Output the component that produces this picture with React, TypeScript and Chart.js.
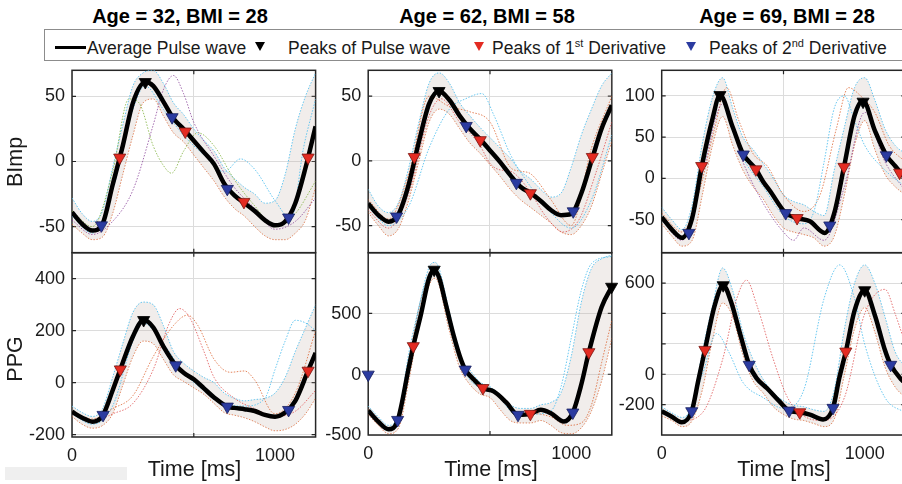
import React, { useEffect, useRef } from "react";
import { Chart, registerables } from "chart.js";

Chart.register(...registerables);
Chart.defaults.font.family = "'Liberation Sans', Arial, sans-serif";

type Pt = [number, number];

// ---------- texts & ticks ----------
const COLUMN_TITLES = ["Age = 32, BMI = 28", "Age = 62, BMI = 58", "Age = 69, BMI = 28"];
const ROW_LABELS = ["BImp", "PPG"];
const X_LABEL = "Time [ms]";
const X_MIN = 0;
const X_MAX = 1200;
const X_STEP = 500;
const X_TICK_LABELS = [0, 1000];

// ---------- BImp, column 1 ----------
const AVG_BIMP_1: Pt[] = [[0,-39],[50,-48],[100,-53],[150,-48],[200,-18],[250,12],[300,45],[361,61],[400,58],[450,46],[500,33],[550,25],[600,16],[650,7],[700,-2],[750,-17],[800,-26],[850,-32],[900,-38],[950,-45],[1000,-49],[1050,-46],[1100,-32],[1150,-5],[1200,27]];
const HI_BIMP_1: Pt[] = [[0,-28],[50,-40],[100,-46],[150,-38],[200,-5],[250,28],[300,58],[350,68],[400,70],[450,60],[500,45],[550,36],[600,25],[650,16],[700,8],[750,-5],[800,-13],[850,-20],[900,-25],[950,-32],[1000,-30],[1050,-10],[1100,25],[1150,50],[1200,68]];
const LO_BIMP_1: Pt[] = [[0,-48],[50,-55],[100,-60],[150,-58],[200,-40],[250,-10],[300,20],[350,45],[400,48],[450,35],[500,22],[550,15],[600,5],[650,-5],[700,-15],[750,-27],[800,-36],[850,-42],[900,-50],[950,-57],[1000,-60],[1050,-60],[1100,-55],[1150,-45],[1200,-20]];
const OUT_BIMP_1: Pt[][] = [
  [[0,-45],[100,-56],[200,-46],[300,-22],[400,28],[450,55],[500,66],[550,52],[600,30],[700,4],[800,-20],[900,-36],[1000,-52],[1100,-46],[1200,-28]],
  [[0,-38],[100,-50],[200,-8],[280,48],[330,45],[400,12],[450,-3],[490,-9],[550,8],[620,22],[700,12],[800,-14],[900,-34],[1000,-50],[1100,-40],[1200,-15]],
  [[0,-42],[100,-55],[200,-22],[300,40],[360,58],[450,40],[550,20],[650,5],[750,-8],[830,2],[900,-6],[1000,-30],[1080,-44],[1140,10],[1200,48]],
];
const BLACK_BIMP_1: Pt[] = [[361,61]];
const RED_BIMP_1: Pt[] = [[235,3],[558,23],[847,-31],[1163,3]];
const BLUE_BIMP_1: Pt[] = [[145,-49],[493,34],[765,-21],[1067,-43]];
const YTICKS_BIMP_1 = [-50, 0, 50];

// ---------- BImp, column 2 ----------
const AVG_BIMP_2: Pt[] = [[0,-33],[50,-42],[100,-47],[150,-41],[200,-18],[250,15],[300,44],[349,54],[400,47],[450,35],[500,25],[550,17],[600,8],[650,-1],[700,-11],[750,-20],[800,-25],[850,-31],[900,-38],[950,-42],[1000,-41],[1050,-25],[1100,0],[1150,25],[1200,43]];
const HI_BIMP_2: Pt[] = [[0,-22],[50,-35],[100,-40],[150,-32],[200,-5],[250,30],[300,60],[350,68],[400,60],[450,45],[500,35],[550,26],[600,18],[650,10],[700,2],[750,-8],[800,-14],[850,-22],[900,-28],[950,-25],[1000,-5],[1050,20],[1100,40],[1150,58],[1200,68]];
const LO_BIMP_2: Pt[] = [[0,-40],[50,-50],[100,-58],[150,-52],[200,-30],[250,0],[300,30],[350,40],[400,36],[450,25],[500,14],[550,6],[600,-3],[650,-12],[700,-22],[750,-30],[800,-36],[850,-42],[900,-48],[950,-55],[1000,-57],[1050,-50],[1100,-35],[1150,-10],[1200,15]];
const OUT_BIMP_2: Pt[][] = [
  [[0,-35],[100,-50],[200,-35],[300,10],[400,40],[480,48],[560,52],[620,35],[700,5],[800,-20],[900,-40],[1000,-52],[1100,-30],[1200,20]],
  [[0,-30],[100,-45],[200,-10],[300,50],[400,42],[500,38],[600,30],[700,-5],[750,-8],[800,-10],[900,-30],[1000,-50],[1100,10],[1200,50]],
  [[0,-38],[100,-52],[200,-25],[300,35],[360,48],[450,30],[550,12],[600,-2],[650,-7],[700,-8],[780,-20],[880,-44],[960,-55],[1040,-45],[1120,-10],[1200,30]],
];
const BLACK_BIMP_2: Pt[] = [[349,54]];
const RED_BIMP_2: Pt[] = [[227,3],[552,16],[799,-25],[1104,3]];
const BLUE_BIMP_2: Pt[] = [[140,-43],[483,27],[730,-17],[1010,-39]];
const YTICKS_BIMP_2 = [-50, 0, 50];

// ---------- BImp, column 3 ----------
const AVG_BIMP_3: Pt[] = [[0,-47],[50,-62],[100,-72],[150,-48],[200,18],[250,72],[287,101],[350,62],[400,30],[464,11],[500,-4],[533,-15],[611,-42],[667,-48],[730,-52],[803,-66],[850,-42],[898,14],[950,76],[992,94],[1050,58],[1107,28],[1150,15],[1200,0]];
const HI_BIMP_3: Pt[] = [[0,-35],[50,-50],[100,-62],[150,-32],[200,42],[250,98],[300,122],[350,85],[400,50],[450,35],[500,18],[550,0],[600,-20],[650,-28],[700,-32],[750,-40],[800,-45],[850,10],[900,62],[950,110],[1000,122],[1050,95],[1100,60],[1150,40],[1200,30]];
const LO_BIMP_3: Pt[] = [[0,-55],[50,-70],[100,-82],[150,-75],[200,-20],[250,40],[300,75],[350,40],[400,10],[450,-10],[500,-25],[550,-45],[600,-60],[650,-65],[700,-68],[750,-72],[800,-82],[850,-70],[900,-20],[950,40],[1000,70],[1050,35],[1100,5],[1150,-10],[1200,-20]];
const OUT_BIMP_3: Pt[][] = [
  [[0,-45],[100,-70],[200,10],[290,95],[400,25],[500,-10],[600,-45],[700,-55],[750,-40],[800,20],[850,85],[900,100],[950,70],[1000,40],[1100,10],[1200,-10]],
  [[0,-50],[100,-75],[200,5],[300,90],[400,20],[500,-30],[600,-65],[650,-75],[700,-60],[800,-75],[900,-10],[1000,80],[1100,20],[1200,-15]],
  [[0,-42],[100,-65],[180,-20],[260,60],[320,110],[380,70],[450,30],[520,15],[600,-20],[700,-40],[780,-20],[860,60],[920,110],[980,100],[1050,80],[1120,40],[1200,20]],
];
const BLACK_BIMP_3: Pt[] = [[287,101],[992,93]];
const RED_BIMP_3: Pt[] = [[197,15],[464,11],[667,-48],[898,14],[1172,7]];
const BLUE_BIMP_3: Pt[] = [[134,-66],[402,29],[611,-42],[828,-57],[1107,28]];
const YTICKS_BIMP_3 = [-50, 0, 50, 100];

// ---------- PPG, column 1 ----------
const AVG_PPG_1: Pt[] = [[0,-112],[50,-135],[100,-150],[150,-128],[200,-30],[238,51],[300,178],[353,241],[400,213],[450,140],[511,67],[550,38],[600,13],[650,-22],[700,-57],[765,-92],[800,-97],[850,-102],[900,-109],[950,-124],[1000,-131],[1050,-115],[1100,-70],[1163,46],[1200,115]];
const HI_PPG_1: Pt[] = [[0,-90],[50,-115],[100,-130],[150,-100],[200,20],[250,150],[300,270],[350,310],[400,300],[450,220],[500,120],[550,75],[600,45],[650,20],[700,0],[750,-40],[800,-60],[850,-70],[900,-65],[950,-60],[1000,-40],[1050,20],[1100,120],[1150,210],[1200,300]];
const LO_PPG_1: Pt[] = [[0,-130],[50,-160],[100,-175],[150,-165],[200,-120],[250,-10],[300,100],[350,160],[400,150],[450,90],[500,30],[550,5],[600,-20],[650,-45],[700,-80],[750,-115],[800,-125],[850,-135],[900,-150],[950,-170],[1000,-185],[1050,-180],[1100,-160],[1150,-120],[1200,-60]];
const OUT_PPG_1: Pt[][] = [
  [[0,-120],[100,-150],[200,-120],[300,-80],[400,50],[480,230],[530,285],[580,250],[650,120],[700,20],[800,-60],[900,-100],[1000,-130],[1100,-110],[1200,-30]],
  [[0,-110],[100,-140],[200,-100],[300,-50],[400,100],[500,220],[570,260],[620,220],[700,90],[780,40],[850,45],[900,10],[1000,-120],[1100,-40],[1200,200]],
  [[0,-120],[100,-160],[200,-90],[300,160],[350,230],[450,150],[550,40],[650,-30],[750,-80],[850,-90],[950,-60],[1000,50],[1050,160],[1100,240],[1150,230],[1200,200]],
];
const BLACK_PPG_1: Pt[] = [[353,241]];
const RED_PPG_1: Pt[] = [[238,51],[1163,46]];
const BLUE_PPG_1: Pt[] = [[153,-124],[511,67],[765,-92],[1067,-105]];
const YTICKS_PPG_1 = [-200, 0, 200, 400];

// ---------- PPG, column 2 ----------
const AVG_PPG_2: Pt[] = [[0,-297],[50,-390],[100,-453],[145,-380],[200,60],[222,236],[260,500],[300,800],[325,869],[350,800],[380,600],[420,330],[460,110],[478,42],[520,-40],[565,-111],[618,-139],[680,-230],[738,-333],[799,-325],[850,-290],[900,-320],[964,-389],[1008,-314],[1050,-80],[1087,186],[1150,560],[1200,728]];
const HI_PPG_2: Pt[] = [[0,-260],[50,-350],[100,-420],[150,-330],[200,180],[250,560],[300,890],[330,930],[400,520],[450,160],[500,40],[550,-60],[600,-100],[650,-170],[700,-250],[750,-280],[800,-280],[850,-250],[900,-230],[950,-150],[1000,150],[1050,600],[1100,880],[1150,960],[1200,990]];
const LO_PPG_2: Pt[] = [[0,-330],[50,-420],[100,-490],[150,-440],[200,-50],[250,400],[300,740],[330,800],[400,360],[450,60],[500,-80],[550,-160],[600,-190],[650,-290],[700,-380],[750,-400],[800,-400],[850,-380],[900,-420],[950,-480],[1000,-490],[1050,-440],[1100,-300],[1150,-50],[1200,300]];
const OUT_PPG_2: Pt[][] = [
  [[0,-310],[100,-460],[150,-390],[200,40],[250,560],[330,880],[400,470],[480,20],[560,-120],[620,-150],[740,-340],[800,-330],[900,-300],[950,-100],[1000,300],[1050,700],[1100,920],[1200,980]],
  [[0,-290],[100,-440],[150,-370],[200,100],[260,620],[330,860],[400,420],[480,60],[560,-100],[620,-130],[740,-320],[800,-320],[900,-350],[980,-420],[1050,-400],[1100,-250],[1150,100],[1200,450]],
];
const BLACK_PPG_2: Pt[] = [[325,869],[1199,728]];
const RED_PPG_2: Pt[] = [[222,236],[565,-111],[799,-325],[1087,186]];
const BLUE_PPG_2: Pt[] = [[0,0],[145,-375],[478,42],[738,-333],[1008,-314]];
const YTICKS_PPG_2 = [-500, 0, 500];

// ---------- PPG, column 3 ----------
const AVG_PPG_3: Pt[] = [[0,-239],[50,-275],[98,-311],[148,-239],[180,-40],[213,163],[260,450],[303,587],[340,485],[390,250],[431,65],[467,-22],[520,-90],[580,-175],[628,-235],[680,-246],[730,-261],[795,-293],[844,-217],[875,-20],[907,152],[950,420],[1000,554],[1050,390],[1100,160],[1128,65],[1182,-33],[1200,-55]];
const HI_PPG_3: Pt[] = [[0,-210],[50,-250],[100,-280],[150,-200],[200,150],[250,450],[300,700],[350,550],[400,280],[450,100],[500,-30],[550,-120],[600,-170],[650,-200],[700,-210],[750,-230],[800,-240],[850,-100],[900,300],[950,600],[1000,720],[1050,600],[1100,380],[1150,150],[1200,50]];
const LO_PPG_3: Pt[] = [[0,-270],[50,-300],[100,-340],[150,-300],[200,-100],[250,230],[300,470],[350,380],[400,130],[450,-40],[500,-120],[550,-210],[600,-260],[650,-290],[700,-300],[750,-320],[800,-340],[850,-290],[900,0],[950,300],[1000,440],[1050,280],[1100,50],[1150,-80],[1200,-150]];
const OUT_PPG_3: Pt[][] = [
  [[0,-250],[100,-300],[200,-250],[300,100],[370,500],[418,620],[470,450],[550,100],[620,-150],[700,-270],[800,-300],[900,-150],[1000,400],[1100,560],[1150,400],[1200,200]],
  [[0,-230],[100,-300],[200,0],[270,270],[330,150],[400,-50],[500,-150],[600,-220],[700,-100],[800,500],[877,720],[950,500],[1000,200],[1100,-150],[1200,-250]],
];
const BLACK_PPG_3: Pt[] = [[303,587],[1000,554]];
const RED_PPG_3: Pt[] = [[213,163],[680,-246],[907,152]];
const BLUE_PPG_3: Pt[] = [[148,-239],[431,65],[628,-235],[844,-217],[1128,65]];
const YTICKS_PPG_3 = [-200, 0, 600];

// ---------- styles ----------
const RED = "#e32b22";
const BLUE = "#2b3ba0";
const C_PURPLE = "rgba(126,47,142,0.7)";
const C_GREEN = "rgba(119,172,48,0.75)";
const C_CYAN = "rgba(77,190,238,0.85)";
const C_ORANGE = "rgba(217,83,25,0.7)";
const C_RED = "rgba(220,60,60,0.7)";
const BAND_FILL = "rgba(190,172,165,0.22)";
const FRAME = "#262626";
const GRID = "#dcdcdc";
const TEXT = "#1a1a1a";
const FONT = "'Liberation Sans', Arial, sans-serif";

const toXY = (a: Pt[]) => a.map(([x, y]) => ({ x, y }));

type Spec = {
  L: number; T: number; R: number; B: number;
  yMin: number; yMax: number; yStep: number; yTicks: number[];
  showX: boolean;
  avg: Pt[]; hi: Pt[]; lo: Pt[]; out: Pt[][]; outColors: string[];
  black: Pt[]; red: Pt[]; blue: Pt[];
};

const COL_L = [72, 368.2, 661.7];
const COL_W = 243.6;
const TOP_T = 70.3;
const MID = 252.7;

const SPECS: Spec[] = [
  { L: COL_L[0], T: TOP_T, R: COL_L[0] + COL_W, B: MID, yMin: -70, yMax: 70, yStep: 50, yTicks: YTICKS_BIMP_1, showX: false,
    avg: AVG_BIMP_1, hi: HI_BIMP_1, lo: LO_BIMP_1, out: OUT_BIMP_1, outColors: [C_PURPLE, C_GREEN, C_CYAN],
    black: BLACK_BIMP_1, red: RED_BIMP_1, blue: BLUE_BIMP_1 },
  { L: COL_L[1], T: TOP_T, R: COL_L[1] + COL_W, B: MID, yMin: -71, yMax: 70, yStep: 50, yTicks: YTICKS_BIMP_2, showX: false,
    avg: AVG_BIMP_2, hi: HI_BIMP_2, lo: LO_BIMP_2, out: OUT_BIMP_2, outColors: [C_CYAN, C_ORANGE, C_RED],
    black: BLACK_BIMP_2, red: RED_BIMP_2, blue: BLUE_BIMP_2 },
  { L: COL_L[2], T: TOP_T, R: COL_L[2] + COL_W, B: MID, yMin: -90, yMax: 131, yStep: 50, yTicks: YTICKS_BIMP_3, showX: false,
    avg: AVG_BIMP_3, hi: HI_BIMP_3, lo: LO_BIMP_3, out: OUT_BIMP_3, outColors: [C_CYAN, C_PURPLE, C_ORANGE],
    black: BLACK_BIMP_3, red: RED_BIMP_3, blue: BLUE_BIMP_3 },
  { L: COL_L[0], T: MID, R: COL_L[0] + COL_W, B: 437, yMin: -209, yMax: 500, yStep: 200, yTicks: YTICKS_PPG_1, showX: true,
    avg: AVG_PPG_1, hi: HI_PPG_1, lo: LO_PPG_1, out: OUT_PPG_1, outColors: [C_RED, C_ORANGE, C_CYAN],
    black: BLACK_PPG_1, red: RED_PPG_1, blue: BLUE_PPG_1 },
  { L: COL_L[1], T: MID, R: COL_L[1] + COL_W, B: 435, yMin: -500, yMax: 1010, yStep: 500, yTicks: YTICKS_PPG_2, showX: true,
    avg: AVG_PPG_2, hi: HI_PPG_2, lo: LO_PPG_2, out: OUT_PPG_2, outColors: [C_CYAN, C_ORANGE],
    black: BLACK_PPG_2, red: RED_PPG_2, blue: BLUE_PPG_2 },
  { L: COL_L[2], T: MID, R: COL_L[2] + COL_W, B: 435, yMin: -395, yMax: 800, yStep: 200, yTicks: YTICKS_PPG_3, showX: true,
    avg: AVG_PPG_3, hi: HI_PPG_3, lo: LO_PPG_3, out: OUT_PPG_3, outColors: [C_RED, C_CYAN],
    black: BLACK_PPG_3, red: RED_PPG_3, blue: BLUE_PPG_3 },
];

function makeFramePlugin(s: Spec) {
  return {
    id: "frame",
    beforeDatasetsDraw(chart: any) {
      const { ctx, chartArea: a, scales } = chart;
      ctx.save();
      ctx.strokeStyle = FRAME;
      ctx.lineWidth = 1.5;
      ctx.strokeRect(a.left, a.top, a.right - a.left, a.bottom - a.top);
      ctx.lineWidth = 1.2;
      const tl = 4;
      ctx.beginPath();
      scales.x.ticks.forEach((t: any) => {
        const px = scales.x.getPixelForValue(t.value);
        if (px > a.left + 1 && px < a.right - 1) {
          ctx.moveTo(px, a.top); ctx.lineTo(px, a.top + tl);
          ctx.moveTo(px, a.bottom); ctx.lineTo(px, a.bottom - tl);
        }
      });
      scales.y.ticks.forEach((t: any) => {
        const py = scales.y.getPixelForValue(t.value);
        if (py > a.top + 1 && py < a.bottom - 1) {
          ctx.moveTo(a.left, py); ctx.lineTo(a.left + tl, py);
          ctx.moveTo(a.right, py); ctx.lineTo(a.right - tl, py);
        }
      });
      ctx.stroke();
      // tick labels
      ctx.fillStyle = TEXT;
      ctx.font = `18px ${FONT}`;
      ctx.textBaseline = "middle";
      ctx.textAlign = "right";
      s.yTicks.forEach((v) => {
        ctx.fillText(String(v), a.left - 7, scales.y.getPixelForValue(v));
      });
      if (s.showX) {
        ctx.textAlign = "center";
        X_TICK_LABELS.forEach((v) => {
          ctx.fillText(String(v), scales.x.getPixelForValue(v), a.bottom + 19.5);
        });
      }
      ctx.restore();
    },
  };
}

function geometry(s: Spec) {
  const cl = Math.max(0, Math.round(s.L - 70));
  const yW = s.L - cl;
  const ct = Math.round(s.T) - 14;
  const padTop = s.T - ct;
  const xH = s.showX ? 40 : 0;
  const cw = Math.ceil(yW + (s.R - s.L) + 12);
  const padRight = cw - yW - (s.R - s.L);
  const ch = Math.ceil(padTop + (s.B - s.T) + xH + 10);
  const padBottom = ch - padTop - (s.B - s.T) - xH;
  return { cl, ct, cw, ch, yW, xH, padTop, padRight, padBottom };
}

function markerDs(pts: Pt[], fill: string, stroke: string) {
  return {
    data: toXY(pts), showLine: false, pointStyle: "triangle", rotation: 180,
    pointRadius: 7, pointHoverRadius: 7, pointBackgroundColor: fill, pointBorderColor: stroke,
    pointBorderWidth: 0.8, order: 0, clip: false, fill: false,
  };
}

function buildConfig(s: Spec, g: any): any {
  const datasets: any[] = [
    markerDs(s.black, "#000000", "#000000"),
    markerDs(s.red, RED, "#7a1510"),
    markerDs(s.blue, BLUE, "#18205e"),
    { data: toXY(s.avg), borderColor: "#000000", borderWidth: 4.5, pointRadius: 0, cubicInterpolationMode: "monotone", order: 1, clip: 0, fill: false },
    { data: toXY(s.hi), borderColor: C_CYAN, borderWidth: 1, borderDash: [1.5, 1.5], pointRadius: 0, cubicInterpolationMode: "monotone", order: 3, clip: 0, fill: "+1", backgroundColor: BAND_FILL },
    { data: toXY(s.lo), borderColor: C_ORANGE, borderWidth: 1, borderDash: [1.5, 1.5], pointRadius: 0, cubicInterpolationMode: "monotone", order: 3, clip: 0, fill: false },
  ];
  s.out.forEach((o, i) => {
    datasets.push({ data: toXY(o), borderColor: s.outColors[i % s.outColors.length], borderWidth: 1, borderDash: [1.5, 1.5], pointRadius: 0, cubicInterpolationMode: "monotone", order: 2, clip: 0, fill: false });
  });
  return {
    type: "line",
    data: { datasets },
    plugins: [makeFramePlugin(s)],
    options: {
      responsive: false,
      animation: false,
      devicePixelRatio: 1,
      events: [],
      layout: { padding: { left: 0, top: g.padTop, right: g.padRight, bottom: g.padBottom } },
      plugins: { legend: { display: false }, tooltip: { enabled: false }, title: { display: false } },
      scales: {
        x: {
          type: "linear", min: X_MIN, max: X_MAX,
          afterFit: (sc: any) => { sc.height = g.xH; },
          border: { display: false },
          grid: { color: GRID, lineWidth: 1, drawTicks: false },
          ticks: { display: false, stepSize: X_STEP, includeBounds: false },
        },
        y: {
          type: "linear", min: s.yMin, max: s.yMax,
          afterFit: (sc: any) => { sc.width = g.yW; },
          border: { display: false },
          grid: { color: GRID, lineWidth: 1, drawTicks: false },
          ticks: { display: false, stepSize: s.yStep, includeBounds: false },
        },
      },
    },
  };
}

function Panel({ spec }: { spec: Spec }) {
  const ref = useRef<HTMLCanvasElement>(null);
  const g = geometry(spec);
  useEffect(() => {
    const chart = new Chart(ref.current as HTMLCanvasElement, buildConfig(spec, g));
    return () => chart.destroy();
  }, []);
  return (
    <canvas
      ref={ref}
      width={g.cw}
      height={g.ch}
      style={{ position: "absolute", left: g.cl, top: g.ct, width: g.cw, height: g.ch }}
    />
  );
}

const TITLE_CX = [180, 487, 787];
const XLABEL_CX = [194.5, 491, 784];
const ROWLABEL_CY = [161.5, 358.5];

function Tri({ left, color }: { left: number; color: string }) {
  return (
    <div style={{ position: "absolute", left, top: 42, width: 0, height: 0, borderLeft: "5px solid transparent", borderRight: "5px solid transparent", borderTop: `9px solid ${color}` }} />
  );
}

export default function App() {
  const legendText: React.CSSProperties = { position: "absolute", top: 39.5, fontSize: 17.5, lineHeight: "17.5px", whiteSpace: "nowrap", color: TEXT, fontFamily: FONT };
  const sup: React.CSSProperties = { fontSize: 11, position: "relative", top: -7, lineHeight: 0 };
  return (
    <div style={{ position: "fixed", left: 0, top: 0, width: 902, height: 484, overflow: "hidden", background: "#ffffff", fontFamily: FONT }}>
      {SPECS.map((s, i) => <Panel key={i} spec={s} />)}
      {COLUMN_TITLES.map((t, i) => (
        <div key={t} style={{ position: "absolute", left: TITLE_CX[i], top: 5.5, transform: "translateX(-50%)", fontSize: 20, lineHeight: "20px", fontWeight: "bold", whiteSpace: "nowrap", color: "#000" }}>{t}</div>
      ))}
      {XLABEL_CX.map((cx, i) => (
        <div key={i} style={{ position: "absolute", left: cx, top: 459, transform: "translateX(-50%)", fontSize: 21.5, lineHeight: "21.5px", whiteSpace: "nowrap", color: TEXT }}>{X_LABEL}</div>
      ))}
      {ROW_LABELS.map((t, i) => (
        <div key={t} style={{ position: "absolute", left: 15.5, top: ROWLABEL_CY[i], transform: "translate(-50%,-50%) rotate(-90deg)", fontSize: 21.5, lineHeight: "21.5px", whiteSpace: "nowrap", color: TEXT }}>{t}</div>
      ))}
      <div style={{ position: "absolute", left: 44, top: 29, width: 870, height: 32, boxSizing: "border-box", border: "1px solid #8c8c8c", background: "#fff" }} />
      <div style={{ position: "absolute", left: 55, top: 45.5, width: 31, height: 3, background: "#000" }} />
      <div style={{ ...legendText, left: 87 }}>Average Pulse wave</div>
      <Tri left={255} color="#000" />
      <div style={{ ...legendText, left: 288 }}>Peaks of Pulse wave</div>
      <Tri left={474} color={RED} />
      <div style={{ ...legendText, left: 492 }}>Peaks of 1<span style={sup}>st</span> Derivative</div>
      <Tri left={686} color={BLUE} />
      <div style={{ ...legendText, left: 709 }}>Peaks of 2<span style={sup}>nd</span> Derivative</div>
      <div style={{ position: "absolute", left: 5, top: 467, width: 122, height: 13, background: "#efefef" }} />
    </div>
  );
}
